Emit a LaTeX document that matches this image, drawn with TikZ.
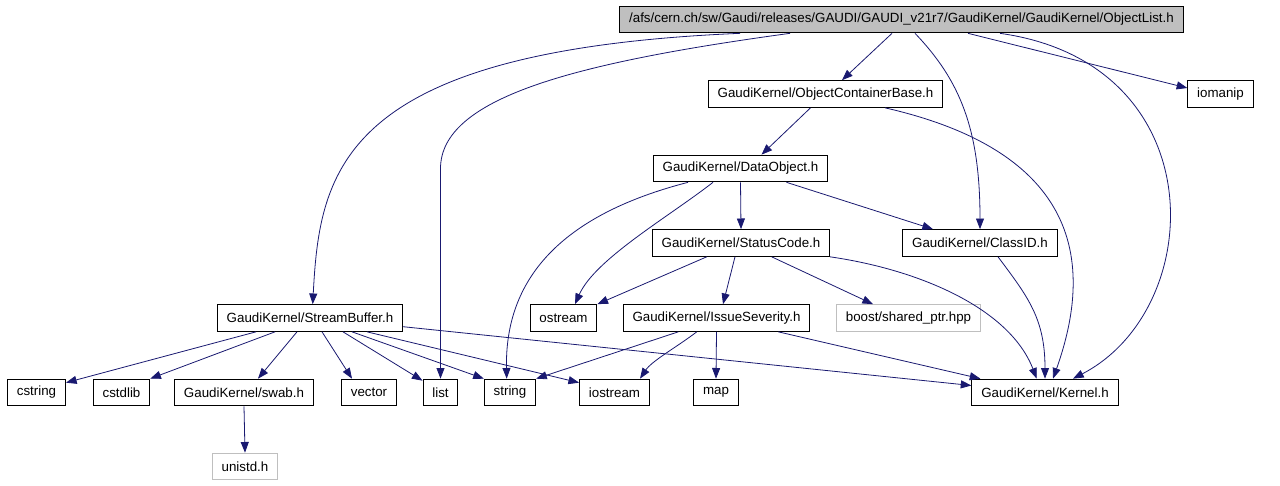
\documentclass[tikz,border=0pt]{standalone}
\usepackage{fontspec}
\setmainfont{Liberation Sans}
\usepackage{tikz}
\usetikzlibrary{arrows.meta}
\definecolor{edgeblue}{HTML}{191970}
\definecolor{ghost}{HTML}{BFBFBF}

\begin{document}
\begin{tikzpicture}[x=0.75pt,y=-0.75pt,
  file/.style={draw=black,line width=0.75pt,inner xsep=7pt,inner ysep=0pt,minimum height=20pt,font=\fontsize{10}{12}\selectfont},
  sysfile/.style={file,draw=ghost},
  edge/.style={draw=edgeblue,line width=0.6pt,-{Triangle[length=8pt,width=6pt]}}]

\useasboundingbox (0,0) rectangle (1280,485);

% Top file (grey box)
\node[file,fill=ghost] (objlist) at (901.5,19.5) {/afs/cern.ch/sw/Gaudi/releases/GAUDI/GAUDI\_v21r7/GaudiKernel/GaudiKernel/ObjectList.h};

% Second and third rows
\node[file] (objbase) at (825.5,94) {GaudiKernel/ObjectContainerBase.h};
\node[file] (iomanip) at (1220.5,94) {iomanip};
\node[file] (dataobj) at (740.5,168.5) {GaudiKernel/DataObject.h};

% Fourth row
\node[file] (statuscode) at (741,243) {GaudiKernel/StatusCode.h};
\node[file] (classid) at (980,243) {GaudiKernel/ClassID.h};

% Fifth row
\node[file] (streambuf) at (310,318) {GaudiKernel/StreamBuffer.h};
\node[file] (ostream) at (563.5,318) {ostream};
\node[file] (severity) at (716.5,318) {GaudiKernel/IssueSeverity.h};
\node[sysfile] (sharedptr) at (908.5,318) {boost/shared\_ptr.hpp};

% Sixth row
\node[file] (cstring) at (36.5,392.5) {cstring};
\node[file] (cstdlib) at (121.5,392.5) {cstdlib};
\node[file] (swab) at (244,392.5) {GaudiKernel/swab.h};
\node[file] (vector) at (369,392.5) {vector};
\node[file] (list) at (440.5,392.5) {list};
\node[file] (string) at (510,392.5) {string};
\node[file] (iostream) at (614.5,392.5) {iostream};
\node[file] (map) at (716,392.5) {map};
\node[file] (kernel) at (1045,392.5) {GaudiKernel/Kernel.h};

% Last row
\node[sysfile] (unistd) at (245,466.5) {unistd.h};

% ObjectList.h includes
\draw[edge] ([shift={(-9.5,0)}]objlist.south) -- ([shift={(16.5,0)}]objbase.north);
\draw[edge] ([shift={(66.5,0)}]objlist.south) -- ([shift={(0,-6)}]iomanip.west);
\draw[edge] ([shift={(13.5,0)}]objlist.south) .. controls +(45,47) and +(0,-100) .. (classid.north);
\draw[edge] ([shift={(98.5,0)}]objlist.south) .. controls +(215,30) and +(135,-70) .. ([shift={(28,0)}]kernel.north);
\draw[edge] ([shift={(-111.5,0)}]objlist.south) .. controls +(-220,30) and +(0,-70) .. ([shift={(0,-210)}]list.north) -- (list.north);
\draw[edge] ([shift={(-161.5,0)}]objlist.south) .. controls +(-400,17) and +(7,-134) .. ([shift={(2.7,0)}]streambuf.north);

% ObjectContainerBase.h includes
\draw[edge] ([shift={(-15,0)}]objbase.south) -- ([shift={(21,0)}]dataobj.north);
\draw[edge] ([shift={(59.5,0)}]objbase.south) .. controls +(145,33) and +(57,-160) .. ([shift={(8,0)}]kernel.north);

% DataObject.h includes
\draw[edge] (dataobj.south) -- (statuscode.north);
\draw[edge] ([shift={(46,0)}]dataobj.south) -- ([shift={(-47,0)}]classid.north);
\draw[edge] ([shift={(-27.5,0)}]dataobj.south) .. controls +(-45,35) and +(20,-45) .. ([shift={(11.5,0)}]ostream.north);
\draw[edge] ([shift={(-52.5,0)}]dataobj.south) .. controls +(-128,33) and +(-2,-99) .. ([shift={(-3.3,0)}]string.north);

% StatusCode.h includes
\draw[edge] ([shift={(-34.3,0)}]statuscode.south) -- (ostream.north east);
\draw[edge] ([shift={(-6,0)}]statuscode.south) -- ([shift={(6.5,0)}]severity.north);
\draw[edge] ([shift={(30.7,0)}]statuscode.south) -- ([shift={(-35.5,0)}]sharedptr.north);
\draw[edge] (statuscode.south east) .. controls +(90,13) and +(-27,-70) .. ([shift={(-8.3,0)}]kernel.north);

% ClassID.h includes
\draw[edge] ([shift={(18,0)}]classid.south) .. controls +(30,40) and +(0,-60) .. (kernel.north);

% IssueSeverity.h includes
\draw[edge] ([shift={(-38.2,0)}]severity.south) -- (string.north east);
\draw[edge] ([shift={(-19.8,0)}]severity.south) .. controls +(-18,14) and +(12,-18) .. ([shift={(25.5,0)}]iostream.north);
\draw[edge] (severity.south) -- (map.north);
\draw[edge] ([shift={(61.8,0)}]severity.south) -- ([shift={(9,0)}]kernel.north west);

% StreamBuffer.h includes
\draw[edge] ([shift={(-54,0)}]streambuf.south) -- ([shift={(0,4)}]cstring.north east);
\draw[edge] ([shift={(-35,0)}]streambuf.south) -- (cstdlib.north east);
\draw[edge] ([shift={(-13,0)}]streambuf.south) -- ([shift={(14,0)}]swab.north);
\draw[edge] ([shift={(12,0)}]streambuf.south) -- ([shift={(-17,0)}]vector.north);
\draw[edge] ([shift={(33,0)}]streambuf.south) -- ([shift={(0,2)}]list.north west);
\draw[edge] ([shift={(42,0)}]streambuf.south) -- (string.north west);
\draw[edge] ([shift={(57,0)}]streambuf.south) -- ([shift={(0,4)}]iostream.north west);
\draw[edge] ([shift={(0,8.7)}]streambuf.east) -- ([shift={(0,-7)}]kernel.west);

% swab.h includes
\draw[edge] (swab.south) -- (unistd.north);

\end{tikzpicture}
\end{document}
